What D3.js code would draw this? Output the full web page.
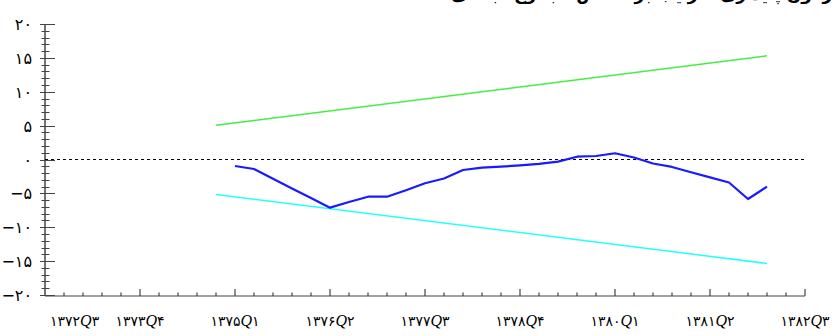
<!DOCTYPE html>
<html><head><meta charset="utf-8">
<script src="https://cdn.jsdelivr.net/npm/d3@7"></script>
<style>
html,body{margin:0;padding:0;background:#fff;overflow:hidden;}
svg{display:block;}
</style></head>
<body><svg id="c" width="837" height="336"></svg>
<script>
// ---- data ----
const quarters = [
 "1372Q3","1372Q4","1373Q1","1373Q2","1373Q3","1373Q4","1374Q1","1374Q2","1374Q3","1374Q4",
 "1375Q1","1375Q2","1375Q3","1375Q4","1376Q1","1376Q2","1376Q3","1376Q4","1377Q1","1377Q2",
 "1377Q3","1377Q4","1378Q1","1378Q2","1378Q3","1378Q4","1379Q1","1379Q2","1379Q3","1379Q4",
 "1380Q1","1380Q2","1380Q3","1380Q4","1381Q1","1381Q2","1381Q3","1381Q4","1382Q1","1382Q2","1382Q3"];
const tickLabels = ["1372Q3","1373Q4","1375Q1","1376Q2","1377Q3","1378Q4","1380Q1","1381Q2","1382Q3"];
const cusumQuarters = quarters.slice(10, 39);
const cusumValues = [-0.96,-1.40,-2.84,-4.27,-5.68,-7.11,-6.27,-5.49,-5.49,-4.55,
  -3.51,-2.80,-1.55,-1.20,-1.06,-0.86,-0.65,-0.32,0.41,0.52,
  0.92,0.30,-0.59,-1.10,-1.89,-2.63,-3.39,-5.83,-4.01];
const boundQuarters = ["1374Q4","1382Q1"];
const upperBound = [5.05, 15.3];
const lowerBound = [-5.15, -15.35];
const yTicks = [-20,-15,-10,-5,0,5,10,15,20];
const titleText = "آزمون پایداری ضرایب بر اساس مجموع تجمعی";

// ---- helpers ----
const fa = s => String(s).replace(/[0-9]/g, d => "۰۱۲۳۴۵۶۷۸۹"[+d]).replace(/-/g, "−");

const svg = d3.select("#c");
const mLeft = 45, mRight = 805, mTop = 24, mBottom = 295;

const x = d3.scalePoint().domain(quarters).range([mLeft, mRight]);
const y = d3.scaleLinear().domain([-20, 20]).range([mBottom, mTop]);

// title (cut off at top, as in the reference)
svg.append("text").attr("x", 838).attr("y", 0)
  .attr("text-anchor", "end").attr("font-family", "DejaVu Sans")
  .attr("font-weight", "bold").attr("font-size", 17).attr("fill", "#000")
  .text(titleText);

const axisCol = "#444";

// y axis ticks
svg.append("g").selectAll("line").data(d3.range(-20, 21))
  .join("line")
  .attr("x1", d => d % 5 === 0 ? 40 : 41.5)
  .attr("x2", d => d % 5 === 0 ? 55 : 49.5)
  .attr("y1", d => Math.round(y(d)) + 0.5).attr("y2", d => Math.round(y(d)) + 0.5)
  .attr("stroke", axisCol).attr("stroke-width", 1);
svg.append("line").attr("x1", mLeft).attr("x2", mLeft).attr("y1", y(20)).attr("y2", y(-20) + 1)
  .attr("stroke", axisCol).attr("stroke-width", 1.5);

// y labels
svg.append("g").selectAll("text").data(yTicks).join("text")
  .attr("x", 32).attr("y", d => y(d) + 6)
  .attr("text-anchor", "end").attr("font-family", "DejaVu Sans").attr("font-size", 16)
  .attr("fill", "#000").text(d => fa(d));

// x axis
svg.append("line").attr("x1", mLeft).attr("x2", mRight).attr("y1", mBottom + 1).attr("y2", mBottom + 1)
  .attr("stroke", axisCol).attr("stroke-width", 1.2);
svg.append("g").selectAll("line").data(quarters.slice(1)).join("line")
  .attr("x1", d => x(d)).attr("x2", d => x(d))
  .attr("y1", d => tickLabels.includes(d) ? 289 : 292.5).attr("y2", mBottom + 1)
  .attr("stroke", axisCol).attr("stroke-width", 1.2);

// x labels
const xl = svg.append("g").selectAll("text").data(tickLabels).join("text")
  .attr("x", (d, i) => i === 0 ? x(d) + 5 : x(d))
  .attr("y", 326)
  .attr("text-anchor", (d, i) => i === 0 ? "start" : "middle")
  .attr("font-family", "DejaVu Sans").attr("font-size", 14).attr("fill", "#000");
xl.each(function(d) {
  const [yr, q] = d.split("Q");
  const t = d3.select(this);
  t.append("tspan").text(fa(yr));
  t.append("tspan").attr("font-family", "Liberation Serif").attr("font-style", "italic")
    .attr("font-size", 16).text("Q");
  t.append("tspan").text(fa(q));
});

// zero dashed line
svg.append("line").attr("x1", mLeft).attr("x2", mRight).attr("y1", y(0)).attr("y2", y(0))
  .attr("stroke", "#000").attr("stroke-width", 1).attr("stroke-dasharray", "3,3");

// bounds
const line = d3.line().x(d => x(d[0])).y(d => y(d[1]));
svg.append("path").attr("d", line(boundQuarters.map((q, i) => [q, upperBound[i]])))
  .attr("fill", "none").attr("stroke", "#44ee44").attr("stroke-width", 1.5);
svg.append("path").attr("d", line(boundQuarters.map((q, i) => [q, lowerBound[i]])))
  .attr("fill", "none").attr("stroke", "#22ffff").attr("stroke-width", 1.5);

// cusum
svg.append("path").attr("d", line(cusumQuarters.map((q, i) => [q, cusumValues[i]])))
  .attr("fill", "none").attr("stroke", "#1a1aff").attr("stroke-width", 2.2)
  .attr("stroke-linejoin", "round");
</script>
</body></html>
